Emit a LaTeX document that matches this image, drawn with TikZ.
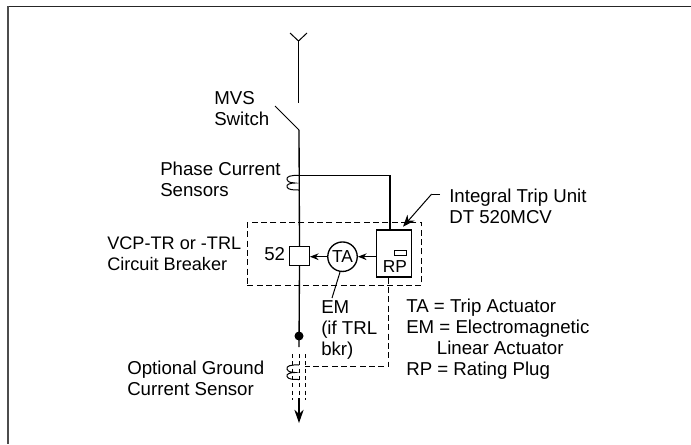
\documentclass[tikz,border=0pt]{standalone}
\usepackage{fontspec}
\setmainfont{Liberation Sans}
\usepackage{tikz}
\usetikzlibrary{positioning,arrows.meta}
\tikzset{wire/.style={line width=1pt},
  thin wire/.style={line width=0.75pt},
  dash wire/.style={line width=0.75pt,dash pattern=on 4.5pt off 2.5pt},
  short dash/.style={line width=0.75pt,dash pattern=on 3pt off 2.5pt},
  box/.style={rectangle,draw,line width=1pt,inner sep=0pt},
  lbl/.style={anchor=base west,align=left,inner sep=0pt,font=\fontsize{14}{15.75}\selectfont},
  inlbl/.style={anchor=center,inner sep=0pt,font=\fontsize{13}{14}\selectfont}}

\begin{document}
\begin{tikzpicture}[>={Stealth[length=6.5pt,width=5pt]},x=0.75pt,y=-0.75pt]
    \useasboundingbox (0,0) rectangle (691,444);

    % outer frame
    \draw [line width=1.3pt,black!85] (8,6.5) -- (691,6.5);
    \draw [line width=1.5pt,black!70] (8,6) -- (8,444);

    \coordinate (forkl) at (290,33);
    \coordinate (forkr) at (307,33);
    \coordinate (forkm) at (298.5,41);
    \coordinate (feed) at (298.5,103);
    \coordinate (swtip) at (275,106);
    \coordinate (swbase) at (299,130);
    \coordinate (ctsplice) at (299,175.5);
    \coordinate (ctcorner) at (390,175.5);
    \coordinate (gct) at (299,365);
    \coordinate (gctend) at (305,366.7);
    \coordinate (rpcorner) at (388.5,366.7);
    \coordinate (tail) at (299,347);

    \node[box,minimum width=19.5*0.75pt,minimum height=18.5*0.75pt] (brk) at (299.5,256) {};
    \node[circle,draw,line width=1pt,minimum size=29.5*0.75pt,inner sep=0pt] (ta) at (342.5,256.7) {};
    \node[inlbl] (talbl) at (342.5,256.7) {TA};
    \node[box,minimum width=35*0.75pt,minimum height=47*0.75pt] (trip) at (394.2,253.5) {};
    \node[box,line width=0.75pt,minimum width=12.5*0.75pt,minimum height=5*0.75pt] (plug) at (400.3,253.2) {};
    \node[inlbl] (rp) at (395,266.5) {RP};
    \node[draw,dash wire,minimum width=174.5*0.75pt,minimum height=62.5*0.75pt,inner sep=0pt] (tripbox) at (334.7,254) {};
    \node[circle,fill,inner sep=0pt,minimum size=9*0.75pt] (dot) at (299,336) {};

    \coordinate (emend) at (332,298);
    \coordinate (ptr) at (440,194);
    \coordinate (ptrbend) at (431.7,194);
    \coordinate (ptrtip) at (403,226.7);
    \coordinate (gl) at (292.7,354);
    \coordinate (gm) at (299,354);
    \coordinate (gr) at (305,354);
    \coordinate (gle) at (292.7,400);
    \coordinate (gme) at (299,398);
    \coordinate (gre) at (305,400);
    \coordinate (arrowend) at (299,423);

    \draw [thin wire] (forkl) -- (forkm) -- (forkr);
    \draw [wire] (forkm) -- (feed);
    \draw [thin wire] (swtip) -- (swbase);
    \draw [wire] (swbase) -- (brk.north);
    \draw [wire] (ctsplice) -- (ctcorner) -- (ctcorner |- trip.north);
    \draw [wire] (brk.south) -- (tail);
    \draw [wire,->] (trip.west |- ta) -- (ta.east);
    \draw [wire,->] (ta.west) -- (brk.east |- ta);
    \draw [thin wire] (ta.south) ++(-2.5,0) -- (emend);
    \draw [thin wire] (ptr) -- (ptrbend);
    \draw [thin wire,-{Stealth[length=9pt,width=7pt]}] (ptrbend) -- (ptrtip);
    \draw [dash wire] (trip.south -| rpcorner) -- (rpcorner) -- (gctend);
    \draw [short dash] (gl) -- (gle);
    \draw [short dash] (gm) -- (gme);
    \draw [short dash] (gr) -- (gre);
    \draw [wire,-{Stealth[length=10pt,width=7pt]}] (gme) -- (arrowend);

    % current sensors
    \draw [thin wire,shift={(ctsplice)}] (0,0) .. controls (-8,-0.5) and (-13,1) .. (-12,4) .. controls (-11,7) and (-7,7.5) .. (-4,7.5) .. controls (-9,7.5) and (-13,9) .. (-12,11.5) .. controls (-11,14.5) and (-5,14.5) .. (0,14.5);
    \draw [thin wire,shift={(gct)}] (0,0) .. controls (-8,-0.5) and (-13,1) .. (-12,4) .. controls (-11,7) and (-7,7.5) .. (-4,7.5) .. controls (-9,7.5) and (-13,9) .. (-12,11.5) .. controls (-11,14.5) and (-5,14.5) .. (0,14.5);

    \node[lbl] (mvs) at (214,125) {MVS\\Switch};
    \node[lbl] (phase) at (160,196) {Phase Current\\Sensors};
    \node[lbl,font=\fontsize{13.6}{15.75}\selectfont] (vcp) at (107,270) {VCP-TR or -TRL\\Circuit Breaker};
    \node[lbl] (num) at (264,260.7) {52};
    \node[lbl] (opt) at (127,395) {Optional Ground\\Current Sensor};
    \node[lbl] (itu) at (449,223) {Integral Trip Unit\\DT 520MCV};
    \node[lbl] (em) at (321,355) {EM\\(if TRL\\bkr)};
    \node[lbl] (key) at (406,375) {TA = Trip Actuator\\EM = Electromagnetic\\\hspace{23pt}Linear Actuator\\RP = Rating Plug};
\end{tikzpicture}
\end{document}
